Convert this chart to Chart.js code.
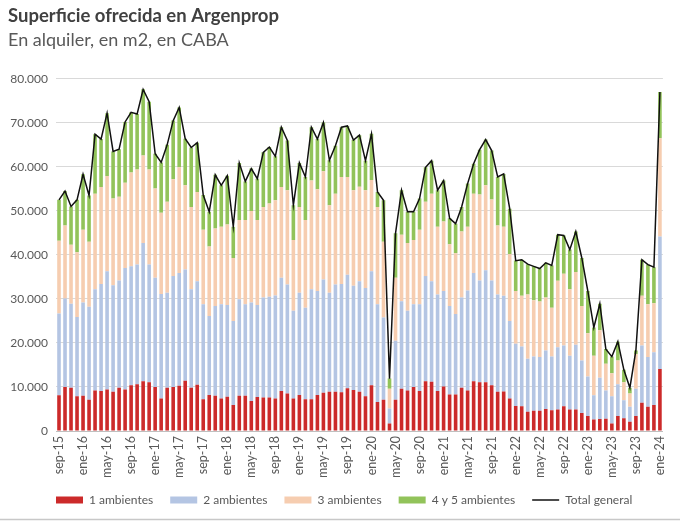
<!DOCTYPE html>
<html><head><meta charset="utf-8">
<script src="https://cdn.jsdelivr.net/npm/chart.js@4.4.1/dist/chart.umd.min.js"></script>
<style>html,body{margin:0;padding:0;background:#fff}#wrap{position:relative;width:680px;height:522px}</style>
</head><body><div id="wrap"><canvas id="c" width="680" height="522"></canvas></div>
<script>
const months = [
 'sep-15','oct-15','nov-15','dic-15',
 'ene-16','feb-16','mar-16','abr-16','may-16','jun-16','jul-16','ago-16','sep-16','oct-16','nov-16','dic-16',
 'ene-17','feb-17','mar-17','abr-17','may-17','jun-17','jul-17','ago-17','sep-17','oct-17','nov-17','dic-17',
 'ene-18','feb-18','mar-18','abr-18','may-18','jun-18','jul-18','ago-18','sep-18','oct-18','nov-18','dic-18',
 'ene-19','feb-19','mar-19','abr-19','may-19','jun-19','jul-19','ago-19','sep-19','oct-19','nov-19','dic-19',
 'ene-20','feb-20','mar-20','abr-20','may-20','jun-20','jul-20','ago-20','sep-20','oct-20','nov-20','dic-20',
 'ene-21','feb-21','mar-21','abr-21','may-21','jun-21','jul-21','ago-21','sep-21','oct-21','nov-21','dic-21',
 'ene-22','feb-22','mar-22','abr-22','may-22','jun-22','jul-22','ago-22','sep-22','oct-22','nov-22','dic-22',
 'ene-23','feb-23','mar-23','abr-23','may-23','jun-23','jul-23','ago-23','sep-23','oct-23','nov-23','dic-23',
 'ene-24'
];
const tickEvery = 4;
const yTicks = [0,10000,20000,30000,40000,50000,60000,70000,80000];

const unoAmb = [8100,10000,9800,7900,8000,7100,9200,9100,9400,8900,
 9800,9400,10400,10600,11300,11100,10000,7400,9800,10000,
 10300,11400,9800,10500,7200,8200,8000,7400,7800,5900,
 8000,8000,6800,7700,7600,7600,7400,9100,8500,7400,
 8200,7200,7200,8200,8700,8900,8900,8800,9700,9300,
 8900,7900,10400,6600,7100,1700,7100,9600,9200,10000,
 9100,11300,11200,9100,10100,8300,8300,9800,9200,11300,
 11100,11100,10400,8900,9000,7400,5700,5600,4400,4600,
 4600,5000,4700,4900,5600,4900,4900,4100,3400,2600,
 2700,2800,1700,3400,2900,2100,3400,6400,5500,5900,
 14100];
const dosAmb = [18600,20100,19100,18000,21200,21100,23000,24300,26900,24200,
 24400,27600,27000,27200,31400,26700,24800,23700,21600,25200,
 25600,25300,22400,23500,21600,17900,20400,21400,20800,19100,
 21900,20800,22400,20900,22700,22900,23400,25700,24800,19900,
 23200,20800,25000,23600,25700,22500,24400,24600,25800,23700,
 25100,24600,25900,22200,18700,3400,13400,19900,18100,18800,
 19700,23900,22800,21900,21700,20100,18300,20500,22700,24600,
 23100,25400,23800,22100,21700,17600,14100,13600,12000,12300,
 12200,13300,12200,14100,13800,12200,14700,11900,9000,5500,
 9400,6400,6200,7200,4100,3400,6200,13000,11300,12000,
 30100];
const tresAmb = [16500,16600,13400,14700,16500,14800,21700,22000,21600,19700,
 19000,19400,21300,21600,19900,21600,20300,18500,20700,22000,
 24000,19100,18700,20300,16900,15800,17600,17600,18300,14300,
 18000,19100,20800,19300,20600,21200,21600,20600,21400,16100,
 19500,19900,24700,23100,24600,19900,20600,24300,22200,21700,
 21500,22200,20700,22100,17200,4500,14300,15100,15400,14600,
 16900,16900,19900,15400,15800,14000,13800,15000,14500,18000,
 19500,19300,18400,15700,15700,15200,12000,11500,14600,12800,
 12600,12000,11100,15100,16300,15100,16500,12400,9800,9000,
 10800,6100,5200,5400,4100,3000,7900,11300,12000,11100,
 22300];
const cuatroCincoAmb = [9300,7800,8700,11900,12600,10500,13500,10900,14300,10700,
 10800,13800,13700,12600,15000,15400,7900,11400,12900,13300,
 13600,10600,13500,11200,7900,7900,12200,9400,11100,7100,
 13000,8800,9600,9400,12400,12800,10000,13600,11300,7900,
 10000,9800,12100,11400,11100,10200,10900,11300,11600,11400,
 11700,6700,10500,3400,9400,2300,10100,10100,7100,6400,
 7100,7800,7500,8300,9300,5900,6700,5600,9800,6800,
 10200,10400,11100,11000,12000,10300,6900,8200,6900,7700,
 7500,7900,9600,10500,8700,9000,9200,10900,9600,6400,
 6000,3300,3800,4300,2800,1300,800,8200,9000,8200,
 10500];
const totalGeneral = [52500,54500,51000,52500,58300,53500,67400,66300,72200,63500,
 64000,70200,72400,72000,77600,74800,63000,61000,65000,70500,
 73500,66400,64400,65500,53600,49800,58200,55800,58000,46400,
 60900,56700,59600,57300,63300,64500,62400,69000,66000,51300,
 60900,57700,69000,66300,70100,61500,64800,69000,69300,66100,
 67200,61400,67500,54300,52400,11900,44900,54700,49800,49800,
 52800,59900,61400,54700,56900,48300,47100,50900,56200,60700,
 63900,66200,63700,57700,58400,50500,38700,38900,37900,37400,
 36900,38200,37600,44600,44400,41200,45300,39300,31800,23500,
 28900,18600,16900,20300,13900,9800,18300,38900,37800,37200,
 77000];

Chart.defaults.font.family = "Lato, 'Open Sans', sans-serif";
Chart.defaults.color = '#595959';

const legendShift = {
  id: 'legendShift',
  afterLayout(chart) {
    const lg = chart.legend;
    const pad = chart.options.plugins.legend.labels.padding;
    const dx = 56 - pad - lg.left;
    lg.left += dx; lg.right += dx;
  }
};
const frameLine = {
  id: 'frameLine',
  afterDraw(chart) {
    const c = chart.ctx;
    c.save(); c.strokeStyle = '#c8c8c8'; c.lineWidth = 1.5;
    c.beginPath(); c.moveTo(0, 519.5); c.lineTo(680, 519.5); c.stroke(); c.restore();
  }
};

const bar = (label, data, color) => ({
  label, data, backgroundColor: color, borderWidth: 0,
  pointStyle: 'rect', stack: 'amb', order: 1,
  barPercentage: 0.6, categoryPercentage: 1.0
});

new Chart(document.getElementById('c'), {
  type: 'bar',
  data: {
    labels: months,
    datasets: [
      bar('1 ambientes', unoAmb, '#cc2a2a'),
      bar('2 ambientes', dosAmb, '#b4c5e3'),
      bar('3 ambientes', tresAmb, '#f6cdb0'),
      bar('4 y 5 ambientes', cuatroCincoAmb, '#92c35a'),
      {
        type: 'line', label: 'Total general', data: totalGeneral,
        borderColor: '#111111', backgroundColor: '#111111', borderWidth: 1.5,
        pointRadius: 0, pointHoverRadius: 0, pointStyle: 'line', tension: 0,
        stack: 'total', order: 0
      }
    ]
  },
  options: {
    responsive: false, animation: false, devicePixelRatio: 1,
    layout: { padding: { left: 8, right: 15, top: 0, bottom: 6 } },
    plugins: {
      title: { display: true, text: 'Superficie ofrecida en Argenprop', align: 'start',
        color: '#404040', font: { size: 18.5, weight: 'bold' }, padding: { top: 5, bottom: 2 } },
      subtitle: { display: true, text: 'En alquiler, en m2, en CABA', align: 'start',
        color: '#595959', font: { size: 18 }, padding: { top: 0, bottom: 28 } },
      legend: { position: 'bottom', align: 'start',
        labels: { usePointStyle: true, pointStyleWidth: 27, boxHeight: 7, color: '#595959',
          font: { size: 12 }, padding: 17,
          sort: (a, b) => a.datasetIndex - b.datasetIndex } },
      tooltip: { enabled: false }
    },
    scales: {
      x: {
        stacked: true,
        grid: { display: false, drawTicks: false },
        border: { color: '#bfbfbf' },
        afterFit: (s) => { s.height = 46; },
        ticks: { autoSkip: false, maxRotation: 90, minRotation: 90, color: '#595959',
          font: { size: 12.5 }, padding: 5,
          callback: function (v, i) { return i % tickEvery === 0 ? months[i] : ''; } }
      },
      y: {
        stacked: true, min: yTicks[0], max: yTicks[yTicks.length - 1],
        afterBuildTicks: (s) => { s.ticks = yTicks.map(v => ({ value: v })); },
        afterFit: (s) => { s.width = 48; },
        ticks: { color: '#595959', font: { size: 12 }, padding: 8,
          callback: (v) => v === 0 ? '0' : (v / 1000) + '.000' },
        grid: { color: '#d9d9d9', drawTicks: false },
        border: { display: false }
      }
    }
  },
  plugins: [legendShift, frameLine]
});
</script></body></html>
